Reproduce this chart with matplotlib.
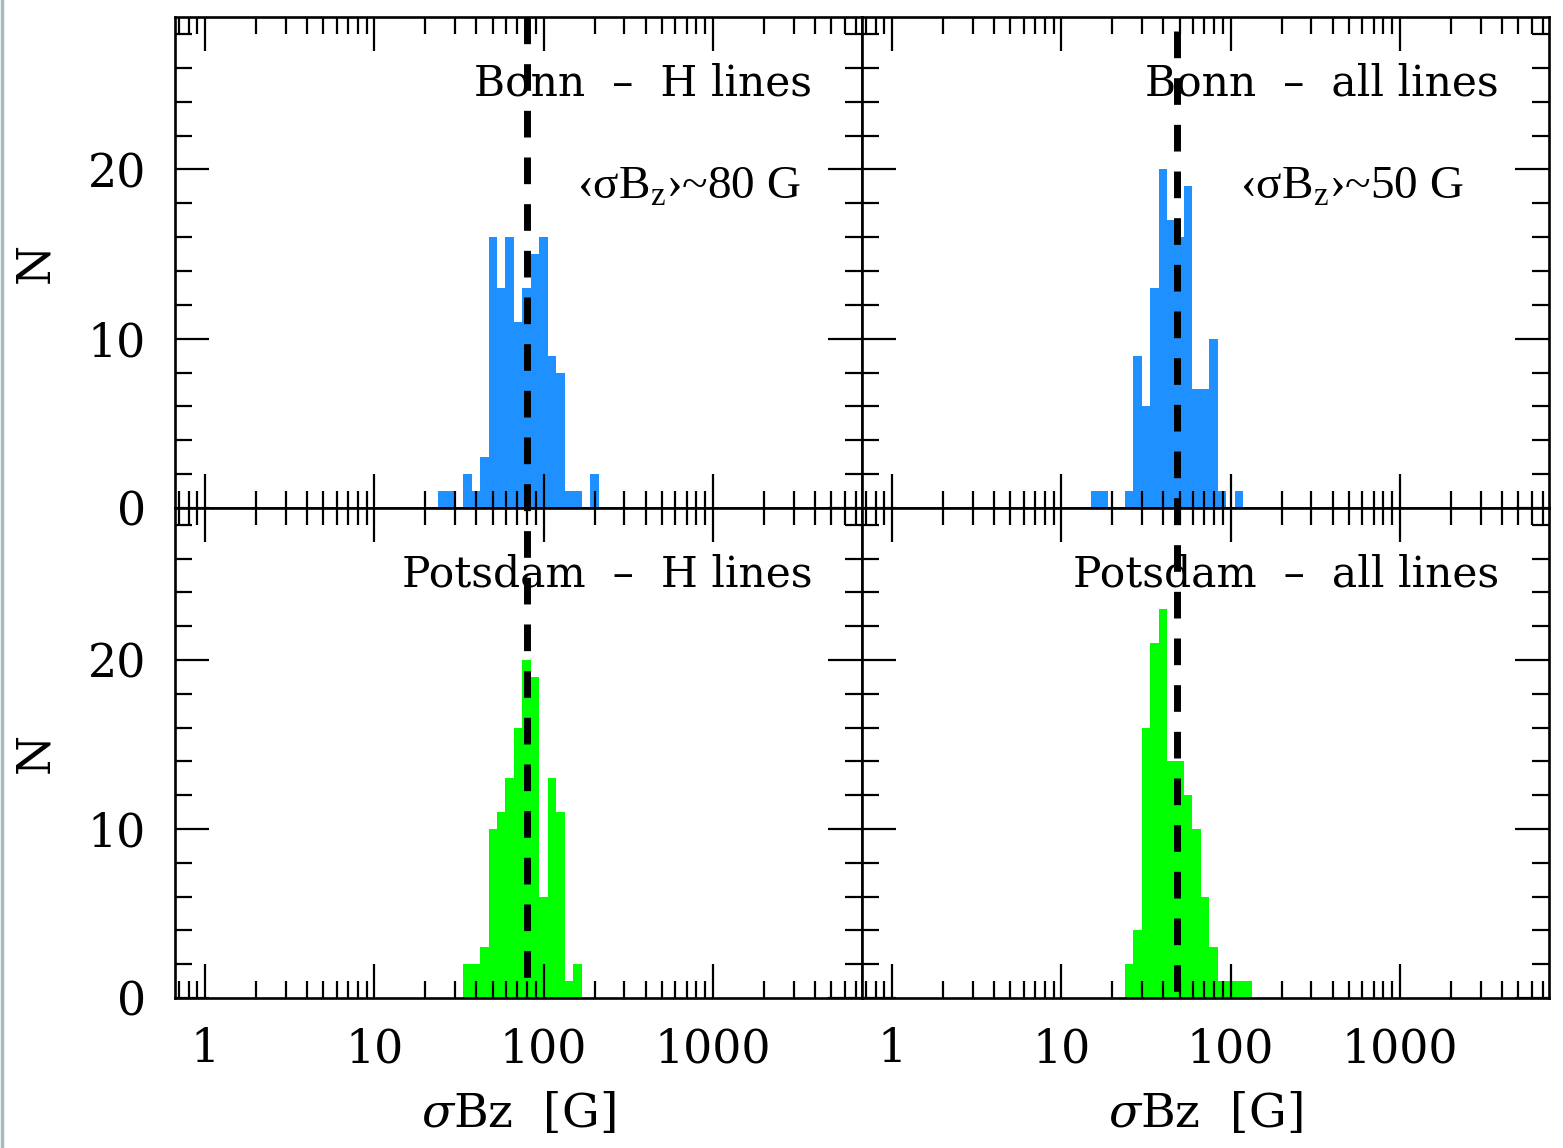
import numpy as np
import matplotlib
matplotlib.use("Agg")
import matplotlib.pyplot as plt
from matplotlib.lines import Line2D
from matplotlib.ticker import FixedLocator, LogLocator, MultipleLocator, NullFormatter, FuncFormatter

# ---------------- data (histograms in log10 bins of 0.05 dex) ----------------
BIN_DEX = 0.05

bonn_h_first_edge = 1.375
bonn_h_counts = [1, 1, 0, 2, 1, 3, 16, 13, 16, 11, 13, 15, 16, 9, 8, 1, 1, 0, 2]

bonn_all_first_edge = 1.175
bonn_all_counts = [1, 1, 0, 0, 1, 9, 6, 13, 20, 17, 16, 19, 7, 7, 10, 1, 0, 1]

potsdam_h_first_edge = 1.525
potsdam_h_counts = [2, 2, 3, 10, 11, 13, 16, 20, 19, 6, 13, 11, 1, 2]

potsdam_all_first_edge = 1.375
potsdam_all_counts = [2, 4, 16, 21, 23, 14, 14, 12, 10, 6, 3, 1, 1, 1, 1]

mean_h = 80      # G
mean_all = 48    # G

panel_titles = ["Bonn  \u2013  H lines", "Bonn  \u2013  all lines",
                "Potsdam  \u2013  H lines", "Potsdam  \u2013  all lines"]
mean_labels = ["\u2039\u03c3B$_{\\rm z}$\u203a~80 G", "\u2039\u03c3B$_{\\rm z}$\u203a~50 G"]
x_tick_values = [1, 10, 100, 1000]

BLUE = "#1e90ff"
GREEN = "#00ff00"

# ---------------- style ----------------
plt.rcParams["font.family"] = ["DejaVu Serif", "DejaVu Sans"]
plt.rcParams["mathtext.fontset"] = "custom"
plt.rcParams["mathtext.rm"] = "Liberation Serif"
plt.rcParams["mathtext.it"] = "DejaVu Serif:italic"
plt.rcParams["lines.scale_dashes"] = False

W, H = 1563, 1148
fig = plt.figure(figsize=(W / 100, H / 100), dpi=100)


def rect(x0, y0, x1, y1):
    return [x0 / W, 1 - y1 / H, (x1 - x0) / W, (y1 - y0) / H]


ax_tl = fig.add_axes(rect(175, 17, 862, 508))
ax_tr = fig.add_axes(rect(862, 17, 1549, 508))
ax_bl = fig.add_axes(rect(175, 508, 862, 998))
ax_br = fig.add_axes(rect(862, 508, 1549, 998))

YMAX = 29
DASH = (19.2, 14.4)

panels = [
    (ax_tl, bonn_h_first_edge, bonn_h_counts, BLUE, mean_h, panel_titles[0], 0.0),
    (ax_tr, bonn_all_first_edge, bonn_all_counts, BLUE, mean_all, panel_titles[1], 23.5),
    (ax_bl, potsdam_h_first_edge, potsdam_h_counts, GREEN, mean_h, panel_titles[2], 17.3),
    (ax_br, potsdam_all_first_edge, potsdam_all_counts, GREEN, mean_all, panel_titles[3], 7.2),
]

for ax, first, counts, col, mean, title, dash_off in panels:
    counts = np.asarray(counts, dtype=float)
    edges = 10 ** (first + BIN_DEX * np.arange(len(counts) + 1))
    ax.stairs(counts, edges, fill=True, color=col, lw=0)
    ax.plot([mean, mean], [YMAX, 0], color="black", lw=5,
            linestyle=(dash_off, DASH), dash_capstyle="butt", zorder=3)
    ax.set_xscale("log")
    ax.set_xlim(0.665, 7600)
    ax.set_ylim(0, YMAX)
    ax.xaxis.set_major_locator(FixedLocator(x_tick_values))
    ax.xaxis.set_major_formatter(FuncFormatter(lambda v, p: f"{v:g}"))
    ax.xaxis.set_minor_locator(LogLocator(base=10, subs=np.arange(2, 10), numticks=30))
    ax.xaxis.set_minor_formatter(NullFormatter())
    ax.yaxis.set_major_locator(MultipleLocator(10))
    ax.yaxis.set_minor_locator(MultipleLocator(2))
    ax.tick_params(which="both", direction="in", top=True, right=True,
                   width=1.6, color="black", labelsize=33)
    ax.tick_params(which="major", length=24.5, pad=21)
    ax.tick_params(which="minor", length=12.2)
    for s in ax.spines.values():
        s.set_linewidth(1.9)
    ax.text(1 - 50 / 687, 1 - 79 / 491, title, transform=ax.transAxes,
            ha="right", va="baseline", fontsize=30.5)

for ax in (ax_tl, ax_tr):
    ax.tick_params(labelbottom=False)
for ax in (ax_tr, ax_br):
    ax.tick_params(labelleft=False)

ax_tl.text(402 / 687, 1 - 182 / 491, mean_labels[0], transform=ax_tl.transAxes,
           ha="left", va="baseline", fontsize=34, family="Liberation Serif")
ax_tr.text(378 / 687, 1 - 182 / 491, mean_labels[1], transform=ax_tr.transAxes,
           ha="left", va="baseline", fontsize=34, family="Liberation Serif")

for ax in (ax_tl, ax_bl):
    ax.set_ylabel("N", fontsize=33)
    ax.yaxis.set_label_coords(-0.170, 0.5)
for ax in (ax_bl, ax_br):
    ax.set_xlabel("$\\sigma$Bz  [G]", fontsize=34)
    ax.xaxis.set_label_coords(0.5, -0.19)

fig.add_artist(Line2D([0.001, 0.001], [0, 1], transform=fig.transFigure,
                      color="#a3bcc4", lw=2.5))

fig.savefig("out.png", dpi=100)
